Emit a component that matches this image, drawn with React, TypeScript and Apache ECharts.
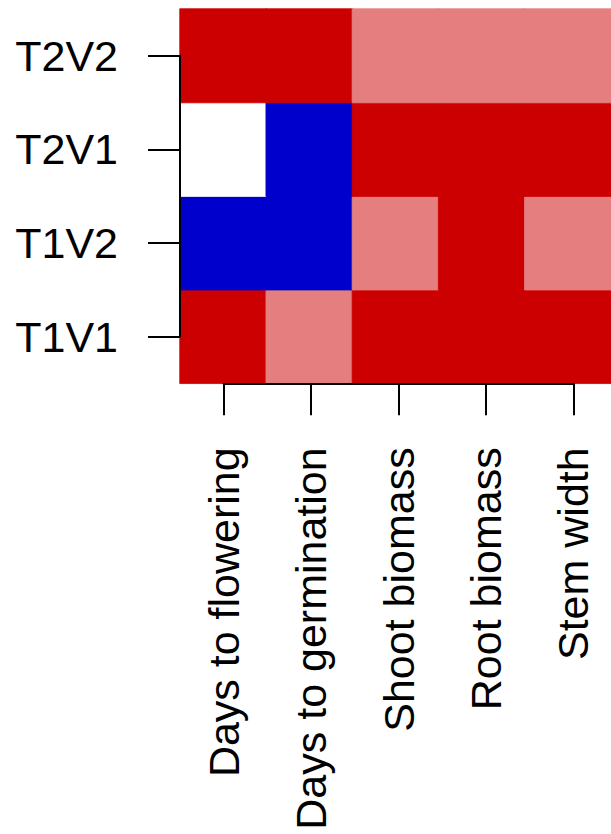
import React, { useEffect, useRef } from "react";
import * as echarts from "echarts";

// Treatments, bottom to top
const rows = ["T1V1", "T1V2", "T2V1", "T2V2"];
const cols = ["Days to flowering", "Days to germination", "Shoot biomass", "Root biomass", "Stem width"];

// Category per cell: 2 = strong positive, 1 = weak positive, 0 = none, -2 = negative
const valT1V1 = [2, 1, 2, 2, 2];
const valT1V2 = [-2, -2, 1, 2, 1];
const valT2V1 = [0, -2, 2, 2, 2];
const valT2V2 = [2, 2, 1, 1, 1];

const rowValues = [valT1V1, valT1V2, valT2V1, valT2V2];

const levelValues = [2, 1, 0, -2];
const levelColors = ["#CC0000", "#E57F7F", "#FFFFFF", "#0000CC"];

const FONT = "'Liberation Sans', Arial, Helvetica, sans-serif";

export default function App() {
  const ref = useRef<HTMLDivElement>(null);
  useEffect(() => {
    if (!ref.current) return;
    const chart = echarts.init(ref.current, undefined, { renderer: "svg" });
    const data: any[] = [];
    rowValues.forEach((vals, r) =>
      vals.forEach((v, c) => {
        const col = levelColors[levelValues.indexOf(v)];
        data.push({ value: [c, r, v], itemStyle: { borderColor: col, borderWidth: 0.8 } });
      })
    );

    const hmLeft = 180, hmTop = 9, hmW = 437, hmH = 374.3;
    const cw = hmW / cols.length, ch = hmH / rows.length;
    const axLeft = hmLeft + cw / 2;
    const axTop = hmTop + ch / 2;
    const axW = cw * (cols.length - 1);
    const axH = ch * (rows.length - 1);
    const bottomOffset = hmTop + hmH - (axTop + axH);

    chart.setOption({
      animation: false,
      textStyle: { fontFamily: FONT },
      grid: [
        { left: hmLeft, top: hmTop, width: hmW, height: hmH },
        { left: axLeft, top: axTop, width: axW, height: axH },
      ],
      xAxis: [
        { type: "category", gridIndex: 0, data: cols, show: false },
        {
          type: "category",
          gridIndex: 1,
          data: cols,
          boundaryGap: false,
          position: "bottom",
          offset: bottomOffset,
          z: 10,
          axisLine: { show: true, lineStyle: { color: "#000", width: 2 } },
          axisTick: { show: true, length: 32, inside: false, lineStyle: { color: "#000", width: 2 } },
          axisLabel: { rotate: 90, margin: 64, fontSize: 43, color: "#000", interval: 0, fontFamily: FONT },
          splitLine: { show: false },
        },
      ],
      yAxis: [
        { type: "category", gridIndex: 0, data: rows, show: false },
        {
          type: "category",
          gridIndex: 1,
          data: rows,
          boundaryGap: false,
          position: "left",
          offset: axLeft - hmLeft,
          z: 10,
          axisLine: { show: true, lineStyle: { color: "#000", width: 2 } },
          axisTick: { show: true, length: 32, inside: false, lineStyle: { color: "#000", width: 2 } },
          axisLabel: { margin: 62, fontSize: 43, color: "#000", interval: 0, fontFamily: FONT },
          splitLine: { show: false },
        },
      ],
      visualMap: {
        type: "piecewise",
        show: false,
        seriesIndex: 0,
        dimension: 2,
        pieces: levelValues.map((v, i) => ({ value: v, color: levelColors[i] })),
      },
      series: [
        {
          type: "heatmap",
          xAxisIndex: 0,
          yAxisIndex: 0,
          data,
          emphasis: { disabled: true },
        },
      ],
    });
    return () => chart.dispose();
  }, []);
  return (
    <div
      ref={ref}
      style={{ position: "absolute", left: 0, top: 0, width: 611, height: 834, background: "#fff", overflow: "hidden" }}
    />
  );
}
